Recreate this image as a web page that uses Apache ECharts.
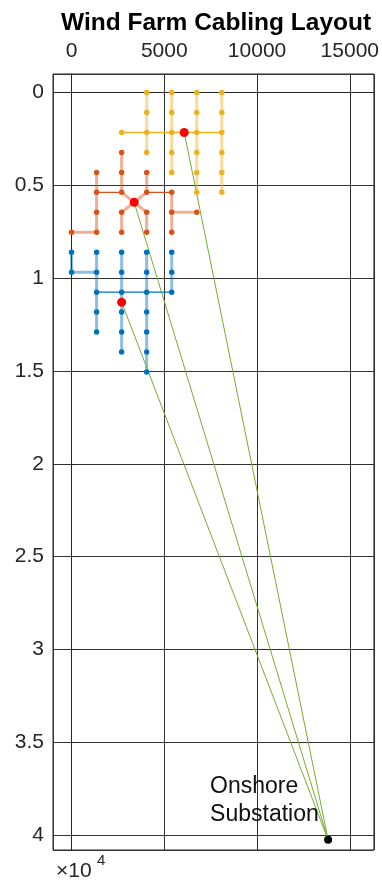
<!DOCTYPE html>
<html>
<head>
<meta charset="utf-8">
<script src="https://cdn.jsdelivr.net/npm/echarts@6/dist/echarts.min.js"></script>
<style>
  html, body { margin: 0; padding: 0; background: #fff; }
  #chart { width: 382px; height: 883px; }
</style>
</head>
<body>
<div id="chart"></div>
<script>
// positions in metres (x east, y south)
const yellowTurbines = [
  [2700, 2150],
  [4050, 0], [4050, 1075], [4050, 2150], [4050, 3225],
  [5400, 0], [5400, 1075], [5400, 2150], [5400, 3225], [5400, 4300],
  [6750, 0], [6750, 1075], [6750, 2150], [6750, 3225], [6750, 4300], [6750, 5375],
  [8100, 0], [8100, 1075], [8100, 2150], [8100, 3225], [8100, 4300], [8100, 5375],
];
const orangeTurbines = [
  [2700, 3225],
  [1350, 4300], [2700, 4300], [4050, 4300],
  [1350, 5375], [2700, 5375], [4050, 5375], [5400, 5375],
  [1350, 6450], [2700, 6450], [4050, 6450], [5400, 6450], [6750, 6450],
  [0, 7525], [1350, 7525], [2700, 7525], [4050, 7525], [5400, 7525],
];
const blueTurbines = [
  [0, 8600], [1350, 8600], [2700, 8600], [4050, 8600], [5400, 8600],
  [0, 9675], [1350, 9675], [2700, 9675], [4050, 9675], [5400, 9675],
  [1350, 10750], [2700, 10750], [4050, 10750], [5400, 10750],
  [1350, 11825], [2700, 11825], [4050, 11825],
  [1350, 12900], [2700, 12900], [4050, 12900],
  [2700, 13975], [4050, 13975],
  [4050, 15050],
];

const substations = [[6075, 2150], [3375, 5910], [2700, 11290]];
const onshore = [13830, 40250];

// feeder cables (thick, faded) and trunk cables (thin)
const yellowFeeders = [
  [[4050, 0], [4050, 3225]],
  [[5400, 0], [5400, 4300]],
  [[6750, 0], [6750, 5375]],
  [[8100, 0], [8100, 5375]],
];
const yellowTrunks = [
  [[2700, 2150], [8100, 2150]],
];
const orangeFeeders = [
  [[2700, 3225], [2700, 5375], [3375, 5910], [4050, 5375], [4050, 4300]],
  [[2700, 7525], [2700, 6450], [3375, 5910], [4050, 6450], [4050, 7525]],
  [[1350, 4300], [1350, 7525], [0, 7525]],
  [[5400, 5375], [5400, 7525]],
  [[5400, 6450], [6750, 6450]],
];
const orangeTrunks = [
  [[1350, 5375], [2700, 5375]],
  [[4050, 5375], [5400, 5375]],
];
const blueFeeders = [
  [[0, 8600], [0, 9675], [1350, 9675]],
  [[1350, 8600], [1350, 12900]],
  [[2700, 8600], [2700, 13975]],
  [[4050, 8600], [4050, 15050]],
  [[5400, 8600], [5400, 10750]],
];
const blueTrunks = [
  [[1350, 10750], [5400, 10750]],
];

const BLUE = "#0072BD", ORANGE = "#D95319", YELLOW = "#EDB120", GREEN = "#77AC30";
const FONT = "Liberation Sans";

function cables(segs, color, width, opacity) {
  return {
    type: "lines",
    coordinateSystem: "cartesian2d",
    polyline: true,
    silent: true,
    lineStyle: { color: color, width: width, opacity: opacity },
    data: segs.map((s) => ({ coords: s })),
  };
}

function dots(pts, color, size) {
  return {
    type: "scatter",
    symbolSize: size,
    itemStyle: { color: color, opacity: 1 },
    data: pts,
  };
}

const chart = echarts.init(document.getElementById("chart"), null, { renderer: "canvas" });

const options = {
  animation: false,
  title: {
    text: "Wind Farm Cabling Layout",
    left: 56,
    top: 6,
    textStyle: { fontFamily: FONT, fontSize: 24.5, fontWeight: "bold", color: "#000" },
  },
  grid: {
    left: 53,
    right: 8,
    top: 74,
    bottom: 33,
    show: true,
    borderColor: "#262626",
    borderWidth: 1,
  },
  xAxis: {
    type: "value",
    position: "top",
    min: -1000,
    max: 16300,
    splitNumber: 3,
    axisLine: { show: true, lineStyle: { color: "#262626" } },
    axisTick: { show: true, inside: true, length: 5, lineStyle: { color: "#262626" } },
    axisLabel: {
      fontFamily: FONT,
      fontSize: 21,
      color: "#262626",
      margin: 12,
      showMinLabel: false,
      showMaxLabel: false,
      formatter: (v) => String(v),
    },
    splitLine: { show: true, lineStyle: { color: "#333", width: 1 } },
  },
  yAxis: {
    type: "value",
    inverse: true,
    min: -1000,
    max: 40800,
    splitNumber: 8,
    axisLine: { show: true, lineStyle: { color: "#262626" } },
    axisTick: { show: true, inside: true, length: 5, lineStyle: { color: "#262626" } },
    axisLabel: {
      fontFamily: FONT,
      fontSize: 21,
      color: "#262626",
      margin: 9,
      showMinLabel: false,
      showMaxLabel: false,
      formatter: (v) => String(v / 10000),
    },
    splitLine: { show: true, lineStyle: { color: "#333", width: 1 } },
  },
  graphic: [
    {
      type: "text",
      x: 56,
      y: 871,
      style: { text: "×10", font: "21px " + FONT, fill: "#262626", verticalAlign: "middle" },
    },
    {
      type: "text",
      x: 97,
      y: 861,
      style: { text: "4", font: "15px " + FONT, fill: "#262626", verticalAlign: "middle" },
    },
  ],
  series: [
    cables(blueFeeders, BLUE, 3, 0.45),
    cables(blueTrunks, BLUE, 1.3, 1),
    dots(blueTurbines, BLUE, 5.5),
    cables(orangeFeeders, ORANGE, 3, 0.45),
    cables(orangeTrunks, ORANGE, 1.3, 1),
    dots(orangeTurbines, ORANGE, 5.5),
    cables(yellowFeeders, YELLOW, 3, 0.45),
    cables(yellowTrunks, YELLOW, 1.3, 1),
    dots(yellowTurbines, YELLOW, 5.5),
    cables(substations.map((s) => [s, onshore]), GREEN, 1, 1),
    dots(substations, "#FF0000", 9),
    {
      type: "scatter",
      symbolSize: 8,
      itemStyle: { color: "#000", opacity: 1 },
      label: {
        show: true,
        formatter: "Onshore\nSubstation",
        position: [-114, -63],
        align: "left",
        verticalAlign: "top",
        fontFamily: FONT,
        fontSize: 23,
        lineHeight: 28,
        color: "#111",
      },
      data: [onshore],
    },
  ],
};

chart.setOption(options);
</script>
</body>
</html>
